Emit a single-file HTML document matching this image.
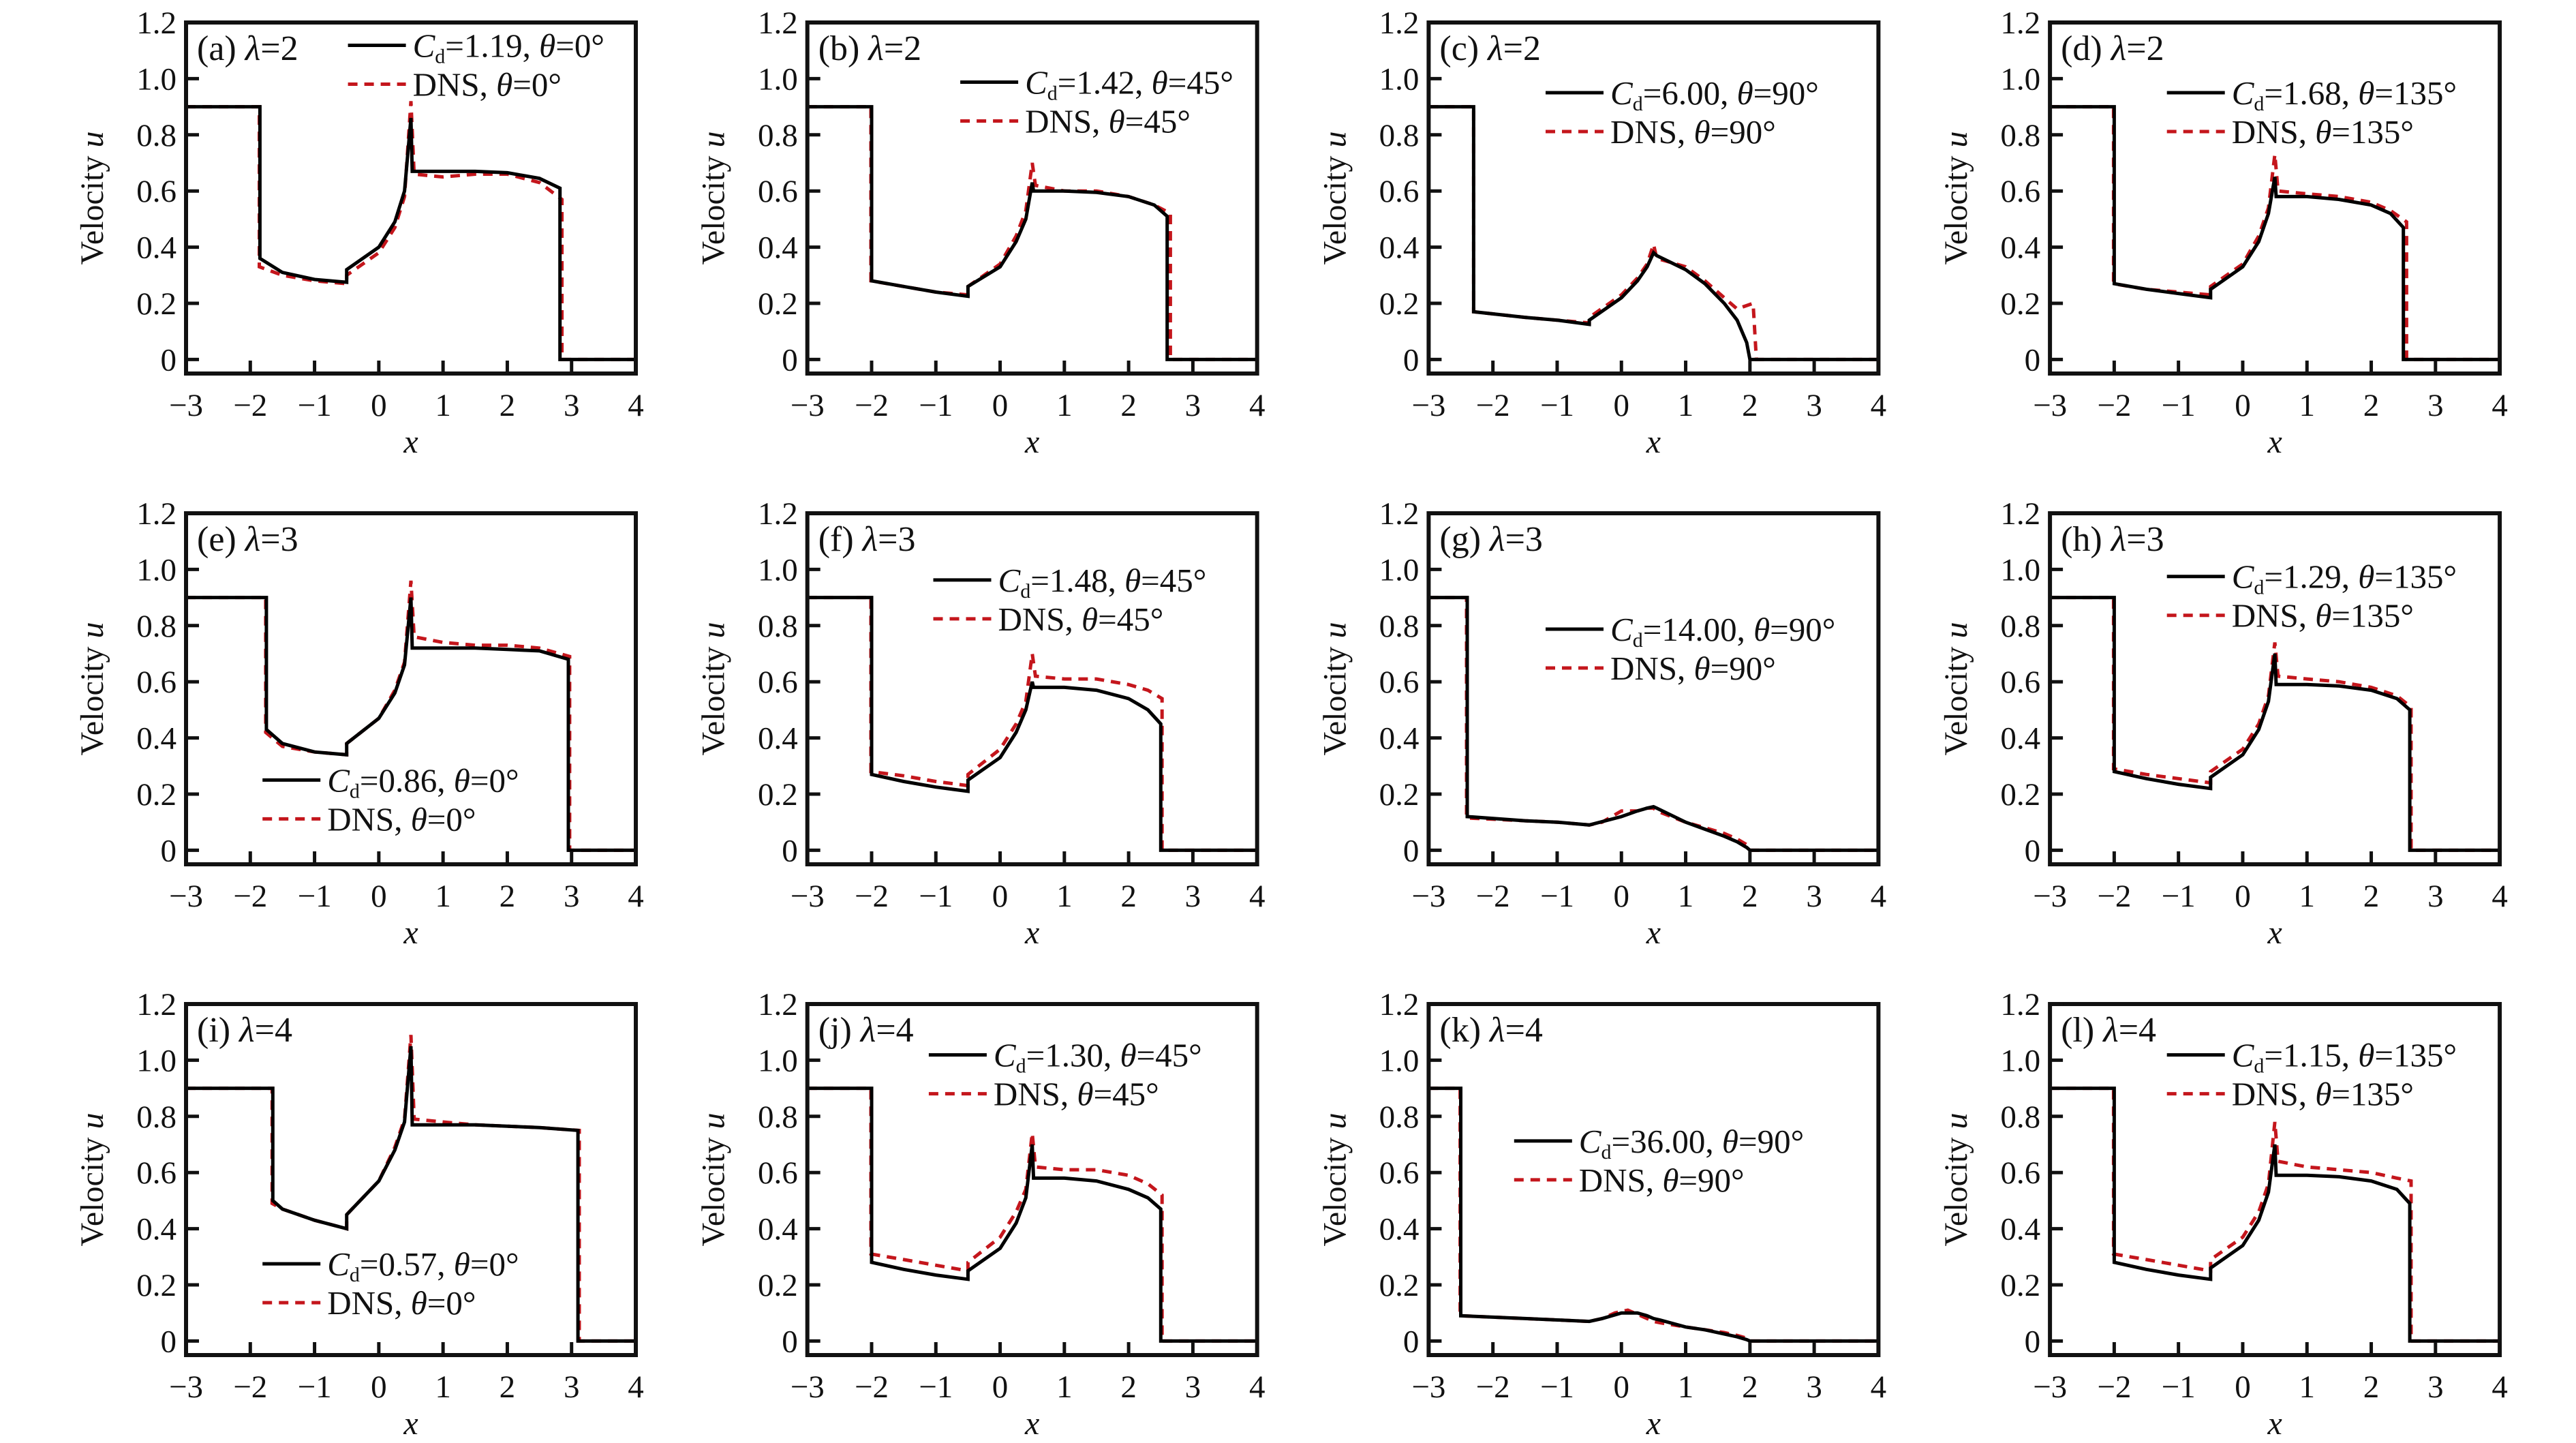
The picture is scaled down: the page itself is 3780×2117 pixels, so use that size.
<!DOCTYPE html>
<html><head><meta charset="utf-8"><style>
html,body{margin:0;padding:0;background:#fff;}
svg{display:block;font-family:"Liberation Serif","DejaVu Serif",serif;}
svg text{font-family:"Liberation Serif","DejaVu Serif",serif;fill:#111;}
</style></head><body>
<svg id="fig" width="3780" height="2117" viewBox="0 0 3780 2117" font-family="Liberation Serif, DejaVu Serif, serif" xmlns="http://www.w3.org/2000/svg"></svg>
<script>
const panelLetters = ["a","b","c","d","e","f","g","h","i","j","k","l"];
const lambdas = [2,2,2,2,3,3,3,3,4,4,4,4];
const thetas = [0,45,90,135,0,45,90,135,0,45,90,135];
const cdValues = ["1.19","1.42","6.00","1.68","0.86","1.48","14.00","1.29","0.57","1.30","36.00","1.15"];
const xTicks = [-3,-2,-1,0,1,2,3,4];
const xTickLabels = ["\u22123","\u22122","\u22121","0","1","2","3","4"];
const yTicks = [0,0.2,0.4,0.6,0.8,1.0,1.2];
const yTickLabels = ["0","0.2","0.4","0.6","0.8","1.0","1.2"];
const modelX = [
 [-3,-1.85,-1.85,-1.5,-1,-0.5,-0.5,0,0.25,0.4,0.5,0.52,1,1.5,2,2.5,2.82,2.82,4],
 [-3,-2,-2,-1.5,-1,-0.5,-0.5,0,0.25,0.4,0.5,0.52,1,1.5,2,2.4,2.6,2.6,4],
 [-3,-2.3,-2.3,-1.5,-1,-0.5,-0.5,0,0.25,0.4,0.5,0.55,1,1.3,1.6,1.8,1.95,2.0,4],
 [-3,-2,-2,-1.5,-1,-0.5,-0.5,0,0.25,0.4,0.5,0.52,1,1.5,2,2.3,2.5,2.5,4],
 [-3,-1.75,-1.75,-1.5,-1,-0.5,-0.5,0,0.25,0.4,0.5,0.52,1,1.5,2,2.5,2.95,2.95,4],
 [-3,-2,-2,-1.5,-1,-0.5,-0.5,0,0.25,0.4,0.5,0.52,1,1.5,2,2.3,2.5,2.5,4],
 [-3,-2.4,-2.4,-1.5,-1,-0.5,-0.5,0,0.25,0.4,0.5,0.55,1,1.3,1.6,1.8,1.95,2.0,4],
 [-3,-2,-2,-1.5,-1,-0.5,-0.5,0,0.25,0.4,0.5,0.52,1,1.5,2,2.4,2.6,2.6,4],
 [-3,-1.65,-1.65,-1.5,-1,-0.5,-0.5,0,0.25,0.4,0.5,0.52,1,1.5,2,2.5,3.1,3.1,4],
 [-3,-2,-2,-1.5,-1,-0.5,-0.5,0,0.25,0.4,0.5,0.52,1,1.5,2,2.3,2.5,2.5,4],
 [-3,-2.5,-2.5,-1.5,-1,-0.5,-0.3,0,0.25,0.4,0.5,0.6,1,1.3,1.6,1.8,1.95,2.0,4],
 [-3,-2,-2,-1.5,-1,-0.5,-0.5,0,0.25,0.4,0.5,0.52,1,1.5,2,2.4,2.6,2.6,4]
];
const modelY = [
 [0.9,0.9,0.36,0.31,0.285,0.275,0.32,0.40,0.49,0.60,0.86,0.67,0.67,0.67,0.665,0.645,0.61,0,0],
 [0.9,0.9,0.28,0.26,0.24,0.225,0.26,0.33,0.42,0.50,0.63,0.60,0.60,0.595,0.58,0.55,0.51,0,0],
 [0.9,0.9,0.17,0.15,0.14,0.125,0.14,0.22,0.28,0.33,0.38,0.37,0.32,0.27,0.2,0.14,0.06,0,0],
 [0.9,0.9,0.27,0.25,0.235,0.22,0.25,0.33,0.42,0.52,0.65,0.58,0.58,0.57,0.55,0.52,0.47,0,0],
 [0.9,0.9,0.43,0.38,0.35,0.34,0.38,0.47,0.56,0.66,0.90,0.72,0.72,0.72,0.715,0.71,0.68,0,0],
 [0.9,0.9,0.27,0.245,0.225,0.21,0.25,0.33,0.42,0.50,0.60,0.58,0.58,0.57,0.54,0.50,0.45,0,0],
 [0.9,0.9,0.12,0.105,0.1,0.09,0.09,0.12,0.14,0.15,0.155,0.15,0.1,0.075,0.05,0.03,0.01,0,0],
 [0.9,0.9,0.28,0.255,0.235,0.22,0.26,0.34,0.43,0.53,0.70,0.59,0.59,0.585,0.57,0.54,0.50,0,0],
 [0.9,0.9,0.50,0.47,0.43,0.40,0.45,0.57,0.68,0.78,1.05,0.77,0.77,0.77,0.765,0.76,0.75,0,0],
 [0.9,0.9,0.28,0.255,0.235,0.22,0.25,0.33,0.42,0.51,0.70,0.58,0.58,0.57,0.54,0.51,0.47,0,0],
 [0.9,0.9,0.09,0.08,0.075,0.07,0.08,0.1,0.1,0.09,0.08,0.075,0.05,0.04,0.025,0.015,0.005,0,0],
 [0.9,0.9,0.28,0.255,0.235,0.22,0.26,0.34,0.43,0.53,0.70,0.59,0.59,0.585,0.57,0.54,0.49,0,0]
];
const dnsX = [
 [-3,-1.86,-1.86,-1.5,-1,-0.5,-0.5,0,0.25,0.4,0.5,0.55,1,1.5,2,2.5,2.85,2.85,4],
 [-3,-2.01,-2.01,-1.5,-1,-0.5,-0.5,0,0.25,0.4,0.5,0.55,1,1.5,2,2.4,2.65,2.65,4],
 [-3,-2.3,-2.3,-1.5,-1,-0.5,-0.5,0,0.25,0.4,0.5,0.55,1,1.3,1.6,1.8,2.05,2.1,4],
 [-3,-2.01,-2.01,-1.5,-1,-0.5,-0.5,0,0.25,0.4,0.5,0.55,1,1.5,2,2.3,2.55,2.55,4],
 [-3,-1.76,-1.76,-1.5,-1,-0.5,-0.5,0,0.25,0.4,0.5,0.55,1,1.5,2,2.5,2.97,2.97,4],
 [-3,-2.01,-2.01,-1.5,-1,-0.5,-0.5,0,0.25,0.4,0.5,0.55,1,1.5,2,2.3,2.52,2.52,4],
 [-3,-2.41,-2.41,-1.5,-1,-0.5,-0.3,0,0.25,0.4,0.5,0.55,1,1.3,1.6,1.8,1.95,2.0,4],
 [-3,-2.01,-2.01,-1.5,-1,-0.5,-0.5,0,0.25,0.4,0.5,0.55,1,1.5,2,2.4,2.62,2.62,4],
 [-3,-1.66,-1.66,-1.5,-1,-0.5,-0.5,0,0.25,0.4,0.5,0.55,1,1.5,2,2.5,3.12,3.12,4],
 [-3,-2.01,-2.01,-1.5,-1,-0.5,-0.5,0,0.25,0.4,0.5,0.55,1,1.5,2,2.3,2.52,2.52,4],
 [-3,-2.51,-2.51,-1.5,-1,-0.5,-0.3,-0.1,0.1,0.4,0.5,0.6,1,1.3,1.6,1.8,1.95,2.0,4],
 [-3,-2.01,-2.01,-1.5,-1,-0.5,-0.5,0,0.25,0.4,0.5,0.55,1,1.5,2,2.4,2.62,2.62,4]
];
const dnsY = [
 [0.9,0.9,0.33,0.30,0.28,0.27,0.30,0.38,0.47,0.58,0.92,0.66,0.65,0.66,0.66,0.63,0.57,0,0],
 [0.9,0.9,0.28,0.26,0.24,0.23,0.26,0.34,0.44,0.53,0.70,0.62,0.60,0.60,0.58,0.55,0.52,0,0],
 [0.9,0.9,0.17,0.15,0.14,0.13,0.15,0.23,0.29,0.34,0.41,0.36,0.33,0.28,0.22,0.18,0.2,0,0],
 [0.9,0.9,0.27,0.25,0.24,0.23,0.26,0.34,0.44,0.54,0.73,0.60,0.59,0.58,0.56,0.53,0.49,0,0],
 [0.9,0.9,0.42,0.37,0.35,0.34,0.38,0.47,0.57,0.67,0.96,0.76,0.74,0.73,0.73,0.72,0.69,0,0],
 [0.9,0.9,0.28,0.265,0.245,0.23,0.27,0.36,0.45,0.53,0.70,0.62,0.61,0.61,0.59,0.57,0.54,0,0],
 [0.9,0.9,0.115,0.105,0.1,0.09,0.1,0.14,0.14,0.15,0.15,0.14,0.1,0.08,0.06,0.04,0.02,0,0],
 [0.9,0.9,0.29,0.27,0.255,0.24,0.28,0.36,0.45,0.55,0.74,0.62,0.61,0.60,0.58,0.55,0.51,0,0],
 [0.9,0.9,0.49,0.47,0.43,0.40,0.45,0.57,0.69,0.79,1.09,0.79,0.78,0.77,0.765,0.76,0.75,0,0],
 [0.9,0.9,0.31,0.29,0.27,0.25,0.28,0.37,0.46,0.54,0.74,0.62,0.61,0.61,0.59,0.56,0.52,0,0],
 [0.9,0.9,0.09,0.08,0.075,0.07,0.08,0.1,0.11,0.08,0.07,0.065,0.05,0.04,0.03,0.02,0.01,0,0],
 [0.9,0.9,0.31,0.29,0.27,0.25,0.29,0.37,0.46,0.56,0.78,0.64,0.62,0.61,0.60,0.58,0.57,0,0]
];
const legendX = [0.36,0.34,0.26,0.26,0.17,0.28,0.26,0.26,0.17,0.27,0.19,0.26];
const legendY = [0.065,0.17,0.20,0.20,0.76,0.19,0.33,0.18,0.74,0.145,0.39,0.145];

const NS="http://www.w3.org/2000/svg";
const svg=document.getElementById('fig');
const FF='Liberation Serif, DejaVu Serif, serif';
function mk(tag,attrs,parent){const e=document.createElementNS(NS,tag);for(const k in attrs)e.setAttribute(k,attrs[k]);(parent||svg).appendChild(e);return e;}
const W=660,H=515,Y0=-0.05,Y1=1.2;
for(let p=0;p<12;p++){
  const c=p%4,r=Math.floor(p/4);
  const L=273+c*911.7,T=33+r*720;
  const sx=x=>L+(x+3)/7*W;
  const sy=y=>T+H-(y-Y0)/(Y1-Y0)*H;
  const g=mk('g',{'font-family':FF});
  
  
  const clipId='clip'+p;
  const cp=mk('clipPath',{id:clipId},g);
  mk('rect',{x:L,y:T,width:W,height:H},cp);
  const dpts=dnsX[p].map((x,i)=>sx(x).toFixed(1)+','+sy(dnsY[p][i]).toFixed(1)).join(' ');
  const dl=mk('polyline',{points:dpts,fill:'none',stroke:'#c4161c','stroke-width':5,'stroke-dasharray':'14,10','clip-path':'url(#'+clipId+')'},g);
  
  
  const mpts=modelX[p].map((x,i)=>sx(x).toFixed(1)+','+sy(modelY[p][i]).toFixed(1)).join(' ');
  const ml=mk('polyline',{points:mpts,fill:'none',stroke:'#000','stroke-width':5,'clip-path':'url(#'+clipId+')'},g);
  
  
  const fr=mk('rect',{x:L,y:T,width:W,height:H,fill:'none',stroke:'#111','stroke-width':6},g);
  
  
  yTicks.forEach((v,i)=>{
    mk('line',{x1:L,x2:L+19,y1:sy(v),y2:sy(v),stroke:'#111','stroke-width':5},g);
    const t=mk('text',{x:L-14,y:sy(v)+16,'text-anchor':'end','font-size':47,'font-family':FF},g);
    t.textContent=yTickLabels[i];
    
    
  });
  xTicks.forEach((v,i)=>{
    mk('line',{x1:sx(v),x2:sx(v),y1:T+H,y2:T+H-19,stroke:'#111','stroke-width':5},g);
    const t=mk('text',{x:sx(v),y:T+H+62,'text-anchor':'middle','font-size':47,'font-family':FF},g);
    t.textContent=xTickLabels[i];
    
    
  });
  const xl=mk('text',{x:L+W/2,y:T+H+116,'text-anchor':'middle','font-size':48,'font-style':'italic','font-family':FF},g);
  xl.textContent='x';
  
  
  const yl=mk('text',{x:0,y:0,'text-anchor':'middle','font-size':48,'font-family':FF,transform:'translate('+(L-122)+','+(T+H/2)+') rotate(-90)'},g);
  yl.innerHTML='Velocity <tspan font-style="italic">u</tspan>';
  
  
  const pl=mk('text',{x:L+16,y:T+55,'font-size':52,'font-family':FF},g);
  pl.innerHTML='('+panelLetters[p]+') <tspan font-style="italic">λ</tspan>='+lambdas[p];
  
  
  const lx=L+legendX[p]*W, ly=T+legendY[p]*H;
  mk('line',{x1:lx,x2:lx+85,y1:ly,y2:ly,stroke:'#000','stroke-width':5},g);
  const t1=mk('text',{x:lx+95,y:ly+17,'font-size':49,'font-family':FF},g);
  t1.innerHTML='<tspan font-style="italic">C</tspan><tspan font-size="30" dy="9">d</tspan><tspan dy="-9">='+cdValues[p]+', </tspan><tspan font-style="italic">θ</tspan>='+thetas[p]+'°';
  
  
  const ly2=ly+57;
  mk('line',{x1:lx,x2:lx+85,y1:ly2,y2:ly2,stroke:'#c4161c','stroke-width':5,'stroke-dasharray':'14,10'},g);
  const t2=mk('text',{x:lx+95,y:ly2+17,'font-size':49,'font-family':FF},g);
  t2.innerHTML='DNS, <tspan font-style="italic">θ</tspan>='+thetas[p]+'°';
  
  
}
</script>
</body></html>
